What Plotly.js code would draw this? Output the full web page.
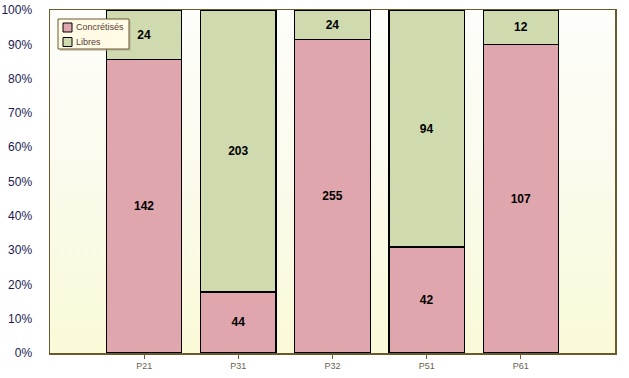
<!DOCTYPE html>
<html><head><meta charset="utf-8">
<script src="https://cdn.plot.ly/plotly-3.0.1.min.js"></script>
<style>
html,body{margin:0;padding:0;background:#fff;}
#wrap{position:relative;width:629px;height:378px;}
#bg{position:absolute;left:50px;top:10px;width:565px;height:343px;background:linear-gradient(to bottom,#fdfdfa 0%,#fbfaec 50%,#fafad8 100%);}
#chart{position:absolute;left:0;top:0;width:629px;height:378px;}
</style></head>
<body><div id="wrap"><div id="bg"></div><div id="chart"></div></div>
<script>
const categories = ['P21','P31','P32','P51','P61'];
const seriesNames = ['Concrétisés','Libres'];
const concretises = [142, 44, 255, 42, 107];
const libres = [24, 203, 24, 94, 12];
const yTicks = [0,10,20,30,40,50,60,70,80,90,100];
const colors = ['#e0a6ad','#cfdaae'];

const font = 'Liberation Sans, Arial, sans-serif';
function mk(name, vals, color){
  return {type:'bar', name:name, x:categories, y:vals, width:0.8,
    text: vals.map(v=>'<b>'+v+'</b>'), texttemplate:'%{text}',
    textposition:'inside', insidetextanchor:'middle',
    textfont:{family:font, size:12, color:'#000'},
    marker:{color:color, line:{color:'#000', width:1.2}},
    hoverinfo:'none', showlegend:false};
}
const traces = [mk(seriesNames[0], concretises, colors[0]), mk(seriesNames[1], libres, colors[1])];

// compact legend (pixel -> paper coords of plot area 50..615 x 10..353)
const px = x => (x-50)/565, py = y => (353-y)/343;
const shapes = [
  {type:'rect', xref:'paper', yref:'paper', x0:px(60), x1:px(131), y0:py(51), y1:py(21), fillcolor:'#b8b0a0', line:{width:0}, opacity:0.6},
  {type:'rect', xref:'paper', yref:'paper', x0:px(58), x1:px(129), y0:py(49), y1:py(19), fillcolor:'#fffbe4', line:{color:'#6b5a2e', width:1}},
];
const annotations = [];
seriesNames.forEach((n,i)=>{
  const top = 23 + i*14.5;
  shapes.push({type:'rect', xref:'paper', yref:'paper', x0:px(63), x1:px(72), y0:py(top+9), y1:py(top), fillcolor:colors[i], line:{color:'#000', width:1}});
  annotations.push({xref:'paper', yref:'paper', x:px(74), y:py(top+4.5), xanchor:'left', yanchor:'middle', text:n, showarrow:false,
    font:{family:font, size:9, color:'#5a3a3a'}});
});

const layout = {
  width:629, height:378,
  margin:{l:50, r:14, t:10, b:25},
  barmode:'stack', barnorm:'percent',
  paper_bgcolor:'rgba(0,0,0,0)', plot_bgcolor:'rgba(0,0,0,0)',
  showlegend:false, shapes:shapes, annotations:annotations,
  xaxis:{type:'category', range:[-1,5], showgrid:false,
    tickfont:{family:font, size:9, color:'#6b6250'},
    ticks:'outside', ticklen:4, tickcolor:'#6b5a2e',
    showline:true, linecolor:'#6b5a2e', linewidth:1.5, mirror:true, fixedrange:true},
  yaxis:{range:[0,100], tickvals:yTicks, ticktext:yTicks.map(v=>v+'%'), showgrid:false,
    tickfont:{family:font, size:12, color:'#1a1a50'}, ticklabelstandoff:14,
    ticks:'', showline:true, linecolor:'#6b5a2e', linewidth:1.5, mirror:true, zeroline:false, fixedrange:true}
};
Plotly.newPlot('chart', traces, layout, {staticPlot:true});
</script></body></html>
